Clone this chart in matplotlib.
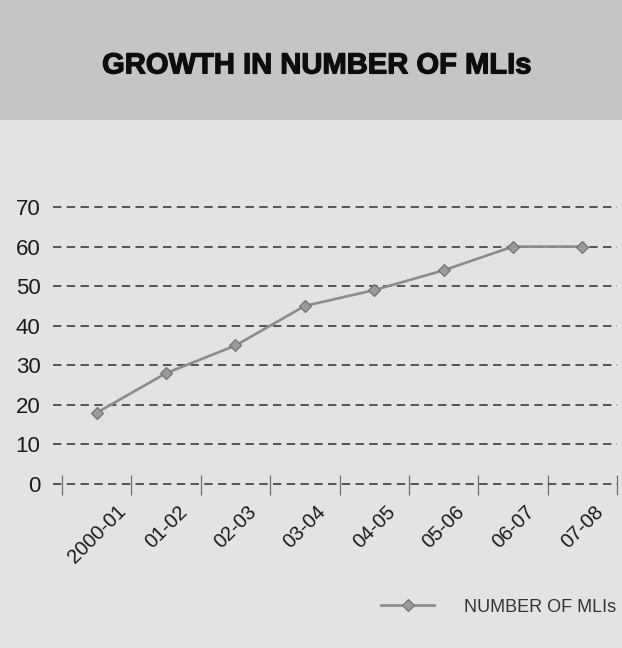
import matplotlib.pyplot as plt
import matplotlib.patheffects as pe
import numpy as np
from matplotlib.patches import Rectangle
from matplotlib.lines import Line2D

plt.rcParams['font.family'] = ['Liberation Sans', 'DejaVu Sans']

years = ['2000-01', '01-02', '02-03', '03-04', '04-05', '05-06', '06-07', '07-08']
mlis = [18, 28, 35, 45, 49, 54, 60, 60]
yticks = [0, 10, 20, 30, 40, 50, 60, 70]

fig = plt.figure(figsize=(6.22, 6.48), dpi=100)
fig.patch.set_facecolor('#e3e3e3')

# grey title band
fig.patches.append(Rectangle((0, 0.815), 1, 0.185, transform=fig.transFigure,
                             facecolor='#c5c5c5', edgecolor='none', zorder=0))
fig.text(0.51, 0.899, 'GROWTH IN NUMBER OF MLIs', ha='center', va='center',
         fontsize=21, fontweight='bold', color='#0d0d0d',
         path_effects=[pe.withStroke(linewidth=0.9, foreground='#0d0d0d')])

# y range padded a little so the 0 and 70 grid lines are not clipped
ax = fig.add_axes([0.0852, 0.2531 - 0.0018, 0.907, 0.4275 + 0.0036])
ax.set_facecolor('none')

x = np.arange(len(years))
ax.plot(x, mlis, color='#8c8c8c', lw=1.9, marker='D', markersize=6.5,
        markerfacecolor='#9a9a9a', markeredgecolor='#6e6e6e',
        markeredgewidth=0.8, zorder=3)

ax.set_xlim(-0.63, 7.5)
ax.set_ylim(-0.3, 70.3)
ax.set_yticks(yticks)
ax.set_yticklabels([str(v) for v in yticks], fontsize=16, color='#1a1a1a')
ax.tick_params(axis='y', length=0, pad=9)

ax.set_xticks(x)
ax.set_xticklabels(years, rotation=45, ha='center', va='top',
                   fontsize=14.5, color='#1a1a1a')
ax.tick_params(axis='x', which='major', length=0, pad=12)
ax.set_xticks(np.arange(-0.5, 8, 1), minor=True)
ax.tick_params(axis='x', which='minor', direction='inout', length=14,
               width=0.9, color='#707070')

ax.grid(axis='y', color='#2e2e2e', lw=1.1, linestyle=(0, (5.5, 3.5)))
ax.grid(axis='x', visible=False)
for s in ax.spines.values():
    s.set_visible(False)

handle = Line2D([], [], color='#8c8c8c', lw=1.9, marker='D', markersize=6.5,
                markerfacecolor='#9a9a9a', markeredgecolor='#6e6e6e',
                markeredgewidth=0.8)
fig.legend([handle], ['NUMBER OF MLIs'], loc='center right',
           bbox_to_anchor=(0.99, 1 - 607 / 648), frameon=False,
           fontsize=13, handlelength=2.9, handletextpad=1.66, borderpad=0,
           borderaxespad=0, labelcolor='#333333')

fig.savefig('out.png', dpi=100, facecolor=fig.get_facecolor())
